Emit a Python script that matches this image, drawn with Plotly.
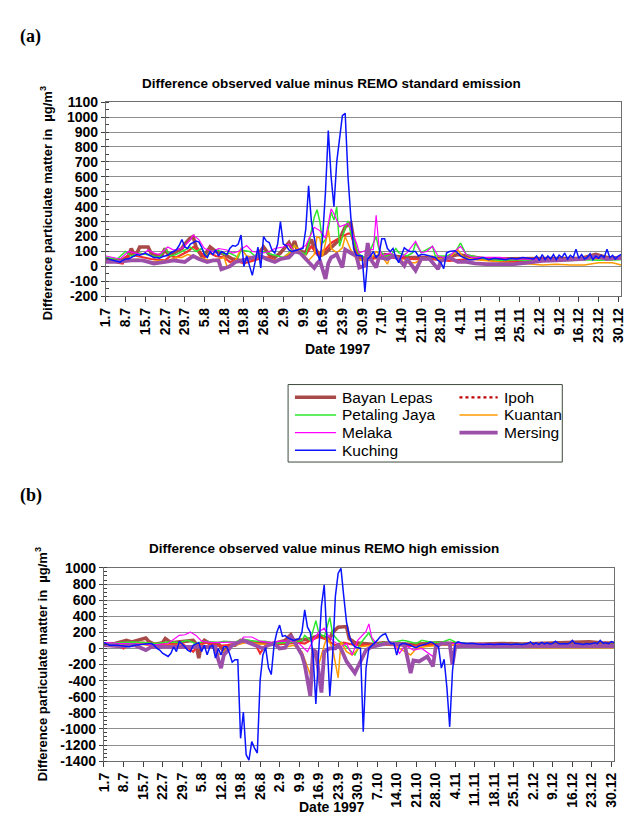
import plotly.graph_objects as go

# ---------------- data (day index 0 = 1 July 1997) ----------------
TICK_LABELS = ["1.7", "8.7", "15.7", "22.7", "29.7", "5.8", "12.8", "19.8", "26.8",
               "2.9", "9.9", "16.9", "23.9", "30.9", "7.10", "14.10", "21.10", "28.10",
               "4.11", "11.11", "18.11", "25.11", "2.12", "9.12", "16.12", "23.12", "30.12"]
TICK_DAYS = [7 * i for i in range(len(TICK_LABELS))]

SERIES_NAMES = ["Bayan Lepas", "Ipoh", "Petaling Jaya", "Kuantan", "Melaka", "Mersing", "Kuching"]

# ---- panel (a): standard emission ----
A_BAYAN_LEPAS = [(0,50),(3,40),(6,45),(8,70),(9,120),(10,80),(11,90),(12,130),(14,130),(15,130),(16,90),
    (18,70),(20,80),(21,120),(22,80),(24,90),(26,110),(27,120),(28,150),(30,190),(31,200),(32,130),(34,70),
    (36,100),(37,130),(39,100),(41,90),(43,70),(45,50),(48,40),(51,50),(53,60),(54,80),(56,130),(58,80),
    (60,60),(62,90),(64,140),(65,160),(66,120),(67,170),(68,110),(70,100),(71,90),(72,150),(73,180),(74,130),
    (76,70),(78,90),(80,125),(83,180),(85,265),(87,290),(88,180),(89,70),(90,50),(93,50),(95,60),(97,70),
    (99,80),(102,70),(106,60),(110,60),(114,60),(119,50),(125,80),(128,70),(131,60),(135,50),(139,50),
    (145,50),(151,55),(157,50),(163,50),(169,55),(172,70),(174,80),(176,70),(179,55),(183,60)]
A_IPOH = [(0,40),(2,50),(4,25),(6,20),(7,60),(9,80),(11,70),(13,60),(16,50),(21,40),(23,70),(25,60),(27,80),
    (29,100),(31,130),(33,110),(35,60),(37,90),(39,70),(42,60),(44,30),(46,40),(49,20),(51,30),(53,40),(56,60),
    (58,60),(60,40),(63,50),(65,80),(67,100),(69,90),(71,80),(73,135),(75,80),(78,113),(80,157),(83,190),
    (86,220),(87,220),(89,92),(91,60),(93,48),(96,55),(100,60),(104,55),(110,48),(116,48),(122,37),(128,48),
    (134,48),(140,37),(146,37),(152,37),(157,37),(163,48),(169,50),(175,55),(180,48),(183,50)]
A_PETALING_JAYA = [(0,60),(4,50),(7,100),(9,70),(12,90),(14,80),(16,70),(19,60),(21,120),(23,70),(25,80),
    (28,110),(30,130),(32,100),(34,120),(36,60),(37,100),(40,110),(42,80),(44,90),(47,60),(48,110),(51,100),
    (53,70),(56,100),(59,80),(63,60),(65,90),(67,140),(69,100),(71,80),(72,150),(74,330),(75,380),(76,300),
    (77,157),(78,180),(79,250),(80,365),(81,310),(82,397),(83,135),(84,200),(85,260),(86,305),(87,220),
    (88,180),(89,120),(90,80),(92,60),(94,113),(96,200),(97,113),(99,70),(101,70),(103,120),(104,92),
    (107,70),(109,92),(110,157),(112,92),(116,135),(117,70),(121,70),(124,92),(126,157),(128,80),(130,70),
    (135,48),(140,40),(145,45),(150,40),(155,42),(160,42),(165,40),(170,45),(175,42),(180,42),(183,45)]
A_KUANTAN = [(0,40),(2,30),(4,35),(7,40),(11,50),(13,40),(16,30),(19,40),(22,40),(25,60),(27,60),(29,80),
    (31,70),(32,60),(35,50),(37,40),(40,50),(42,60),(43,0),(44,10),(46,40),(48,120),(50,70),(53,60),(56,60),
    (60,40),(63,60),(66,100),(67,140),(69,100),(71,60),(72,40),(74,80),(75,200),(76,190),(77,70),(79,245),
    (80,120),(82,92),(84,125),(85,200),(87,110),(89,48),(92,40),(94,48),(96,100),(98,70),(100,15),(101,70),
    (104,60),(106,25),(110,25),(112,48),(116,70),(118,48),(122,60),(125,113),(127,60),(130,48),(135,37),
    (140,30),(145,25),(150,15),(155,9),(160,15),(165,9),(170,10),(175,25),(180,25),(183,9)]
A_MELAKA = [(0,70),(3,60),(5,50),(8,100),(10,90),(13,80),(15,110),(17,90),(19,80),(21,110),(22,130),(24,110),
    (27,120),(30,180),(31,210),(33,180),(35,120),(38,100),(40,120),(43,110),(45,90),(47,100),(50,140),
    (52,100),(56,90),(58,100),(60,120),(63,130),(65,150),(67,100),(69,120),(71,140),(72,180),(74,262),
    (76,240),(78,190),(80,386),(81,353),(83,266),(85,280),(86,288),(87,250),(89,157),(90,90),(93,113),
    (95,113),(96,343),(97,135),(98,70),(101,92),(104,48),(107,92),(110,168),(112,92),(114,100),(116,135),
    (118,70),(120,60),(122,70),(126,135),(128,80),(130,60),(135,60),(140,60),(145,48),(150,48),(155,52),
    (160,48),(165,48),(170,48),(175,60),(180,48),(183,48)]
A_MERSING = [(0,30),(4,30),(9,40),(13,40),(15,30),(17,20),(21,30),(24,40),(28,30),(30,60),(31,70),(33,50),
    (36,30),(38,40),(40,40),(41,-20),(44,0),(46,30),(49,40),(52,60),(55,70),(57,50),(60,30),(62,50),(65,60),
    (67,100),(69,90),(71,50),(72,30),(74,-10),(75,20),(76,40),(78,-83),(79,20),(80,60),(82,80),(84,-7),
    (85,113),(87,90),(89,70),(90,-7),(92,5),(93,157),(94,50),(96,-7),(97,60),(100,50),(102,70),(104,50),
    (106,5),(107,50),(110,-28),(112,50),(115,50),(118,-18),(119,37),(122,60),(125,30),(128,30),(131,20),
    (135,15),(140,15),(145,15),(150,25),(155,37),(160,40),(165,45),(170,50),(174,70),(178,50),(183,60)]
A_KUCHING = [(0,55),(1,50),(2,45),(3,35),(4,30),(5,28),(6,40),(7,50),(8,50),(9,60),(10,70),(11,80),(12,75),
    (13,85),(14,90),(15,80),(16,70),(17,60),(18,60),(19,55),(20,65),(21,70),(22,75),(23,90),(24,100),(25,110),
    (26,140),(27,180),(28,130),(29,120),(30,150),(31,160),(32,170),(33,165),(34,130),(35,80),(36,60),(37,100),
    (38,80),(39,110),(40,70),(41,100),(42,90),(43,80),(44,120),(45,140),(46,135),(47,150),(48,210),(49,0),
    (50,70),(51,10),(52,-60),(53,30),(54,130),(55,-10),(56,200),(57,170),(58,160),(59,110),(60,90),(61,150),
    (62,300),(63,150),(64,140),(65,110),(66,100),(67,105),(68,110),(69,115),(70,120),(71,250),(72,540),
    (73,300),(74,200),(75,90),(76,40),(77,200),(78,500),(79,910),(80,600),(81,400),(82,700),(83,850),
    (84,1010),(85,1025),(86,600),(87,330),(88,120),(89,75),(90,75),(91,70),(92,-170),(93,50),(94,70),
    (95,100),(96,60),(97,80),(98,185),(99,185),(100,120),(101,100),(102,120),(103,60),(104,25),(105,80),
    (106,125),(107,110),(108,100),(109,100),(110,100),(111,70),(112,80),(113,80),(114,75),(115,70),(116,70),
    (117,60),(118,40),(119,25),(120,-15),(121,90),(122,100),(123,105),(124,105),(125,90),(126,70),(127,60),
    (128,50),(129,45),(130,45),(132,50),(134,60),(136,45),(138,55),(140,50),(142,45),(144,55),(146,50),
    (148,60),(150,55),(152,50),(153,70),(154,40),(155,80),(156,45),(157,70),(158,50),(159,80),(160,45),
    (161,75),(162,60),(163,90),(164,50),(165,75),(166,60),(167,115),(168,55),(169,80),(170,50),(171,60),
    (172,85),(173,45),(174,70),(175,55),(176,75),(177,60),(178,115),(179,60),(180,75),(181,50),(182,70),(183,80)]

# ---- panel (b): high emission ----
B_BAYAN_LEPAS = [(0,49),(4,60),(7,90),(8,100),(10,80),(13,113),(15,130),(16,90),(18,50),(21,70),(22,122),
    (24,70),(27,80),(30,100),(32,100),(33,60),(34,-122),(35,60),(36,100),(38,60),(41,60),(43,-40),(45,40),
    (47,40),(49,100),(51,90),(55,70),(58,70),(60,60),(62,70),(65,100),(67,170),(68,100),(70,100),(74,120),
    (77,160),(79,140),(81,120),(82,200),(84,264),(87,272),(88,120),(90,70),(92,60),(96,50),(100,70),(104,60),
    (110,50),(116,60),(120,70),(125,60),(130,50),(136,55),(143,61),(150,55),(158,60),(166,65),(174,81),
    (178,70),(183,65)]
B_IPOH = [(0,49),(5,40),(7,0),(9,49),(14,73),(19,61),(23,49),(28,61),(32,-40),(34,49),(37,73),(41,32),(45,40),
    (49,90),(54,73),(56,-61),(58,40),(62,49),(66,61),(70,73),(72,61),(74,100),(77,142),(79,122),(81,81),
    (83,40),(85,61),(86,73),(89,49),(92,40),(98,49),(104,40),(110,32),(116,40),(122,49),(128,40),(135,40),
    (145,40),(155,45),(165,45),(175,45),(183,45)]
B_PETALING_JAYA = [(0,49),(6,73),(11,81),(16,73),(19,60),(23,81),(27,73),(30,100),(33,60),(36,90),(41,73),
    (43,90),(47,81),(50,113),(54,90),(58,90),(61,60),(66,73),(69,81),(71,100),(72,162),(74,100),(76,345),
    (77,200),(79,142),(81,386),(82,180),(84,100),(87,20),(90,-81),(92,61),(95,195),(97,49),(100,73),(104,73),
    (107,100),(109,90),(112,61),(114,100),(117,81),(121,73),(124,114),(126,81),(130,60),(140,49),(150,49),
    (160,49),(170,55),(180,49),(183,49)]
B_KUANTAN = [(0,40),(6,45),(12,60),(17,30),(23,40),(29,30),(35,40),(39,20),(41,-81),(43,-40),(45,20),(51,73),
    (58,50),(61,50),(63,0),(68,40),(71,-40),(74,-325),(75,-40),(76,-120),(77,-203),(79,40),(80,142),(82,0),
    (83,-200),(84,-365),(85,80),(87,-40),(89,-81),(92,20),(96,40),(100,48),(104,48),(106,0),(108,-40),
    (110,-81),(112,0),(115,20),(120,40),(127,48),(135,25),(145,15),(155,10),(165,10),(175,10),(183,10)]
B_MELAKA = [(0,73),(6,61),(11,61),(17,40),(23,61),(27,162),(29,170),(31,203),(33,162),(35,90),(39,73),
    (44,73),(49,81),(50,142),(53,142),(56,90),(60,73),(63,90),(67,90),(70,61),(73,-40),(75,100),(77,203),
    (79,252),(80,180),(82,100),(85,20),(87,61),(89,-81),(91,100),(93,180),(94,210),(95,305),(96,142),
    (98,40),(101,73),(104,61),(106,-61),(108,40),(111,-20),(114,0),(118,-100),(120,40),(123,61),(127,61),
    (135,55),(145,48),(155,45),(165,50),(175,45),(183,48)]
B_MERSING = [(0,40),(6,25),(11,40),(14,0),(15,-20),(17,20),(22,20),(27,20),(32,30),(37,20),(40,20),(41,-142),
    (42,-244),(43,-81),(46,40),(50,100),(54,40),(57,0),(59,40),(61,60),(63,0),(65,10),(66,70),(67,162),
    (69,40),(71,-81),(72,-203),(74,-589),(75,-20),(76,-40),(78,-548),(79,-40),(81,0),(83,0),(84,40),(85,0),
    (87,-162),(90,-305),(92,-162),(94,-20),(96,20),(98,40),(101,60),(104,60),(107,50),(108,20),(110,-305),
    (111,-150),(113,-162),(115,-120),(116,-100),(118,-223),(119,20),(121,60),(124,60),(125,-203),(126,20),
    (128,30),(135,30),(145,30),(155,32),(165,32),(175,35),(183,30)]
B_KUCHING = [(0,73),(2,40),(5,40),(7,30),(9,20),(11,40),(13,50),(15,55),(17,60),(18,40),(19,0),(20,-20),
    (21,-60),(22,-80),(23,-100),(24,-60),(25,20),(26,-40),(27,90),(29,20),(30,-20),(31,-40),(32,40),(34,73),
    (35,-40),(36,40),(37,-80),(38,20),(39,40),(40,-120),(41,0),(42,-80),(43,20),(44,20),(45,-60),(46,-170),
    (47,-140),(48,-140),(49,-1117),(50,-790),(51,-1320),(52,-1389),(53,-1157),(54,-1238),(55,-1300),
    (56,-400),(57,-80),(58,10),(59,-240),(60,-325),(61,40),(62,200),(63,290),(64,150),(65,160),(66,130),
    (67,110),(68,100),(69,110),(70,122),(71,200),(72,480),(73,264),(74,200),(75,-80),(76,-690),(77,-50),
    (78,528),(79,790),(80,150),(81,-589),(82,-100),(83,650),(84,934),(85,995),(86,650),(87,325),(88,150),
    (89,61),(90,20),(91,10),(92,0),(93,-1035),(94,-244),(95,0),(96,30),(97,61),(98,100),(99,142),(100,170),
    (101,183),(102,100),(103,60),(104,61),(105,-81),(106,40),(107,60),(108,61),(109,50),(110,40),(111,20),
    (112,10),(113,30),(114,40),(116,60),(117,81),(118,70),(119,40),(120,20),(121,-244),(122,-134),
    (123,-487),(124,-974),(125,-284),(126,61),(127,81),(128,70),(130,60),(132,65),(134,55),(136,50),
    (138,55),(140,50),(142,55),(144,50),(146,50),(148,55),(150,50),(152,60),(153,81),(154,50),(155,70),
    (156,50),(157,75),(158,55),(159,70),(160,55),(161,65),(162,89),(163,60),(164,55),(165,60),(166,55),
    (167,65),(168,100),(169,60),(170,60),(171,55),(172,50),(173,60),(174,55),(175,60),(176,70),(177,60),
    (178,100),(179,65),(180,70),(181,60),(182,85),(183,70)]

A_YTICKS = list(range(-200, 1101, 100))
B_YTICKS = list(range(-1400, 1001, 200))

# ---------------- styles ----------------
W, H = 628, 826
STYLE = {
    "Bayan Lepas":   dict(color="#a84a48", width=3.6),
    "Ipoh":          dict(color="#f03030", width=2.2),
    "Petaling Jaya": dict(color="#2ee82e", width=1.5),
    "Kuantan":       dict(color="#ff9a00", width=1.5),
    "Melaka":        dict(color="#ff00ff", width=1.2),
    "Mersing":       dict(color="#9b4fa9", width=3.8),
    "Kuching":       dict(color="#0a14ff", width=1.5),
}
A_DATA = [A_BAYAN_LEPAS, A_IPOH, A_PETALING_JAYA, A_KUANTAN, A_MELAKA, A_MERSING, A_KUCHING]
B_DATA = [B_BAYAN_LEPAS, B_IPOH, B_PETALING_JAYA, B_KUANTAN, B_MELAKA, B_MERSING, B_KUCHING]

SANS = "Liberation Sans, Arial, Helvetica, sans-serif"
SERIF = "Liberation Serif, Times New Roman, serif"


def fx(px):
    return px / W


def fy(py):
    return 1 - py / H


fig = go.Figure()
for name, pts in zip(SERIES_NAMES, A_DATA):
    fig.add_trace(go.Scatter(x=[p[0] for p in pts], y=[p[1] for p in pts], mode="lines", name=name,
                             line=STYLE[name], xaxis="x", yaxis="y", showlegend=False))
for name, pts in zip(SERIES_NAMES, B_DATA):
    fig.add_trace(go.Scatter(x=[p[0] for p in pts], y=[p[1] for p in pts], mode="lines", name=name,
                             line=STYLE[name], xaxis="x2", yaxis="y2", showlegend=False))

xtickfont = dict(family=SANS, size=14, color="black", weight="bold")
ytickfont = dict(family=SANS, size=14, color="black", weight="bold")
axcol = "#6e6e6e"


def xaxis_cfg(left, right, anchor):
    return dict(domain=[fx(left), fx(right)], anchor=anchor, range=[0, 183],
                tickmode="array", tickvals=TICK_DAYS, ticktext=TICK_LABELS, tickangle=-90,
                ticks="outside", ticklen=5, tickcolor="#404040", showline=True, mirror=True,
                linecolor=axcol, linewidth=1, showgrid=False, zeroline=False, tickfont=xtickfont)


def yaxis_cfg(top, bottom, anchor, ticks, rng, minor_step):
    return dict(domain=[fy(bottom), fy(top)], anchor=anchor, range=rng,
                tickmode="array", tickvals=ticks, ticktext=[str(v) for v in ticks],
                ticks="outside", ticklen=4, tickcolor="#404040", showline=True, mirror=True,
                linecolor=axcol, linewidth=1, showgrid=True, gridcolor="#8f8f8f", gridwidth=1,
                zeroline=False, tickfont=ytickfont,
                minor=dict(dtick=minor_step, tick0=0, ticks="inside", ticklen=3, tickcolor="#404040",
                           showgrid=False))


fig.update_layout(
    width=W, height=H, margin=dict(l=0, r=0, t=0, b=0), autosize=False,
    paper_bgcolor="white", plot_bgcolor="white", showlegend=False,
    xaxis=xaxis_cfg(100, 626, "y"),
    yaxis=yaxis_cfg(96, 294, "x", A_YTICKS, [-200, 1100], 50),
    xaxis2=xaxis_cfg(98, 619, "y2"),
    yaxis2=yaxis_cfg(571, 768, "x2", B_YTICKS, [-1400, 1000], 50),
)

ann = []


def text(x, y, s, size, bold=True, family=SANS, xanchor="center", angle=0):
    ann.append(dict(x=fx(x), y=fy(y), xref="paper", yref="paper", text=s, showarrow=False,
                    xanchor=xanchor, yanchor="middle", textangle=angle,
                    font=dict(family=family, size=size, color="black", weight="bold" if bold else "normal")))


text(10, 29, "(a)", 18, family=SERIF, xanchor="left")
text(10, 497, "(b)", 18, family=SERIF, xanchor="left")
text(330, 77, "Difference observed value minus REMO standard emission", 13.5)
text(323, 551, "Difference observed value minus REMO high emission", 13.5)
text(337, 348, "Date 1997", 14)
text(331, 815, "Date 1997", 14)
ytitle = "Difference particulate matter in \u00a0\u00b5g/m<sup>3</sup>"
text(39, 199, ytitle, 13, angle=-90)
text(34, 669, ytitle, 13, angle=-90)

# legend (box with two columns)
shapes = [dict(type="rect", xref="paper", yref="paper", x0=fx(286), x1=fx(566), y0=fy(463), y1=fy(384),
               line=dict(color="#3d4a3d", width=1), fillcolor="white", layer="above")]
rows = [397, 415, 433, 451]
LEG_COL1 = ["Bayan Lepas", "Petaling Jaya", "Melaka", "Kuching"]
LEG_COL2 = ["Ipoh", "Kuantan", "Mersing"]
for name, y in zip(LEG_COL1, rows):
    st = STYLE[name]
    shapes.append(dict(type="line", xref="paper", yref="paper", x0=fx(293), x1=fx(335), y0=fy(y), y1=fy(y),
                       line=dict(color=st["color"], width=st["width"]), layer="above"))
    text(339, y, name, 15.5, bold=False, xanchor="left")
for name, y in zip(LEG_COL2, rows):
    st = STYLE[name]
    dash = "dot" if name == "Ipoh" else "solid"
    col = "#c00000" if name == "Ipoh" else st["color"]
    shapes.append(dict(type="line", xref="paper", yref="paper", x0=fx(461), x1=fx(500), y0=fy(y), y1=fy(y),
                       line=dict(color=col, width=min(st["width"], 3.6), dash=dash), layer="above"))
    text(504, y, name, 15.5, bold=False, xanchor="left")

fig.update_layout(annotations=ann, shapes=shapes)
fig.write_html("out.html")
